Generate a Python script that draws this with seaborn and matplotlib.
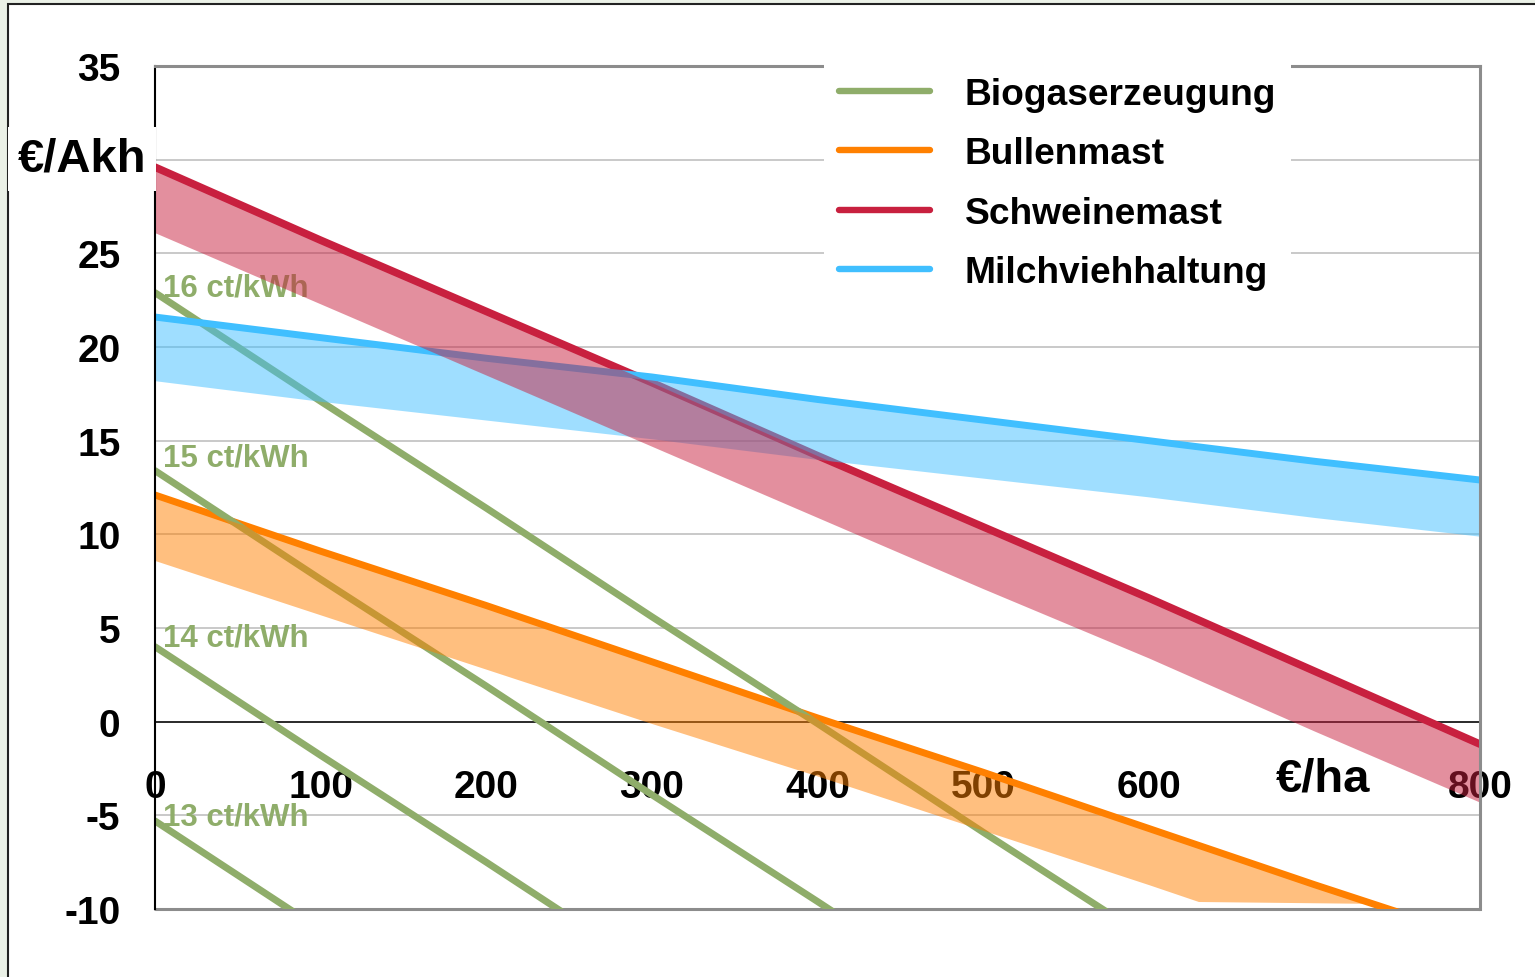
import matplotlib
matplotlib.use('Agg')
import matplotlib.pyplot as plt
from matplotlib.lines import Line2D
from matplotlib.patches import Rectangle
import seaborn as sns

# data (x in €/ha, y in €/Akh)
x_ha = [0, 100, 200, 300, 400, 500, 600, 700, 800]

schwein_top = [29.6, 25.7, 21.9, 18.1, 14.2, 10.4, 6.6, 2.7, -1.2]
schwein_bottom = [26.1, 22.3, 18.5, 14.7, 10.9, 7.1, 3.4, -0.5, -4.3]

milch_top = [21.6, 20.5, 19.4, 18.4, 17.2, 16.1, 15.0, 13.9, 12.9]
milch_bottom = [18.2, 17.1, 16.1, 15.1, 14.0, 13.0, 12.0, 10.9, 9.9]

bullen_line = [12.1, 9.1, 6.2, 3.2, 0.2, -2.7, -5.7, -8.7, -11.6]
bullen_band_x = [0, 100, 200, 300, 400, 500, 600, 630, 735]
bullen_band_top = [12.1, 9.1, 6.2, 3.2, 0.2, -2.7, -5.7, -6.6, -9.7]
bullen_band_bottom = [8.6, 5.7, 2.8, -0.1, -2.9, -5.8, -8.7, -9.6, -9.7]

biogas_16 = [22.9, 17.1, 11.4, 5.6, -0.1, -5.9, -11.6, -17.4, -23.1]
biogas_15 = [13.4, 7.6, 1.9, -3.9, -9.6, -15.4, -21.1, -26.9, -32.6]
biogas_14 = [4.0, -1.8, -7.5, -13.3, -19.0, -24.8, -30.5, -36.3, -42.0]
biogas_13 = [-5.3, -11.1, -16.8, -22.6, -28.3, -34.1, -39.8, -45.6, -51.3]
biogas_labels = ['16 ct/kWh', '15 ct/kWh', '14 ct/kWh', '13 ct/kWh']
biogas_label_y = [22.75, 13.65, 4.05, -5.5]

x_ticks = [0, 100, 200, 300, 400, 500, 600, 700, 800]
x_ticklabels = ['0', '100', '200', '300', '400', '500', '600', '', '800']
y_ticks = [-10, -5, 0, 5, 10, 15, 20, 25, 30, 35]
y_ticklabels = ['-10', '-5', '0', '5', '10', '15', '20', '25', '', '35']

legend_names = ['Biogaserzeugung', 'Bullenmast', 'Schweinemast', 'Milchviehhaltung']

GREEN = '#8fad6a'
ORANGE = '#ff8000'
RED = '#c8203f'
BLUE = '#40bfff'

sns.set_style('white')
plt.rcParams['font.family'] = ['Liberation Sans', 'DejaVu Sans']
plt.rcParams['font.weight'] = 'bold'
plt.rcParams['axes.unicode_minus'] = False
plt.rcParams['text.color'] = 'black'
plt.rcParams['xtick.color'] = 'black'
plt.rcParams['ytick.color'] = 'black'

fig = plt.figure(figsize=(15.35, 9.78), dpi=100)
fig.patch.set_facecolor('#ebf1e7')
fig.add_artist(Rectangle((8 / 1535, -0.1), 1.2, 1.1 - 5 / 978, transform=fig.transFigure,
                         facecolor='white', edgecolor='#222222', lw=1.5, zorder=-10))

ax = fig.add_axes([155 / 1535, 68 / 978, 1325 / 1535, 843 / 978])
ax.set_facecolor('white')
ax.set_axisbelow(True)

lw = 5.0
sns.lineplot(x=x_ha, y=bullen_line, ax=ax, color=ORANGE, linewidth=lw, zorder=1.5)
for vals in [biogas_16, biogas_15, biogas_14, biogas_13]:
    sns.lineplot(x=x_ha, y=vals, ax=ax, color=GREEN, linewidth=lw, zorder=1.6)
for lab, yy in zip(biogas_labels, biogas_label_y):
    ax.text(5, yy, lab, color=GREEN, fontsize=22.5, ha='left', va='baseline', zorder=1.7)
sns.lineplot(x=x_ha, y=schwein_top, ax=ax, color=RED, linewidth=lw + 0.5, zorder=1.8)
sns.lineplot(x=x_ha, y=milch_top, ax=ax, color=BLUE, linewidth=lw, zorder=1.8)

# blue band first so the red band lies on top where they overlap
ax.fill_between(x_ha, milch_bottom, milch_top, color=BLUE, alpha=0.5, lw=0, zorder=2)
ax.fill_between(x_ha, schwein_bottom, schwein_top, color=RED, alpha=0.5, lw=0, zorder=2.05)
ax.fill_between(bullen_band_x, bullen_band_bottom, bullen_band_top, color=ORANGE, alpha=0.5, lw=0, zorder=2)

ax.set_xlim(0, 800)
ax.set_ylim(-10, 35)
ax.set_xticks(x_ticks)
ax.set_xticklabels(x_ticklabels)
ax.set_yticks(y_ticks)
ax.set_yticklabels(y_ticklabels)
ax.set_xlabel('')
ax.set_ylabel('')
ax.yaxis.grid(True, color='#c0c0c0', lw=1.2)
ax.xaxis.grid(False)

ax.spines['bottom'].set_position(('data', 0))
ax.spines['bottom'].set_color('black')
ax.spines['bottom'].set_linewidth(1.1)
ax.spines['bottom'].set_zorder(1)
ax.spines['left'].set_color('black')
ax.spines['left'].set_linewidth(1.5)
for s in ['top', 'right']:
    ax.spines[s].set_color('#8c8c8c')
    ax.spines[s].set_linewidth(2.2)
ax.axhline(-10, color='#8c8c8c', lw=2.2, zorder=0.6, clip_on=False)

ax.tick_params(axis='y', length=9.4, width=1.2, pad=15.5, labelsize=28, direction='out', color='black')
ax.tick_params(axis='x', length=7, width=1.0, pad=27, labelsize=28, direction='out', color='#444444')

ax.text(-0.0068, 30.05, '€/Akh', transform=ax.get_yaxis_transform(), ha='right', va='center',
        fontsize=34, zorder=6, clip_on=False,
        bbox=dict(facecolor='white', edgecolor='none', pad=7))
ax.text(705, -3.05, '€/ha', ha='center', va='center', fontsize=34, zorder=1.9,
        bbox=dict(facecolor='white', edgecolor='none', pad=9))

handles = [Line2D([0], [0], color=c, lw=4.6) for c in [GREEN, ORANGE, RED, BLUE]]
leg = ax.legend(handles, legend_names, loc='upper left', bbox_to_anchor=(824 / 1535, 1 - 63 / 978),
                bbox_transform=fig.transFigure, fontsize=26.7, frameon=True, fancybox=False,
                framealpha=1, facecolor='white', edgecolor='none', handlelength=2.45,
                handletextpad=0.95, labelspacing=0.66, borderpad=0.4, borderaxespad=0)
leg.set_zorder(5)

fig.savefig('out.png', dpi=100)
